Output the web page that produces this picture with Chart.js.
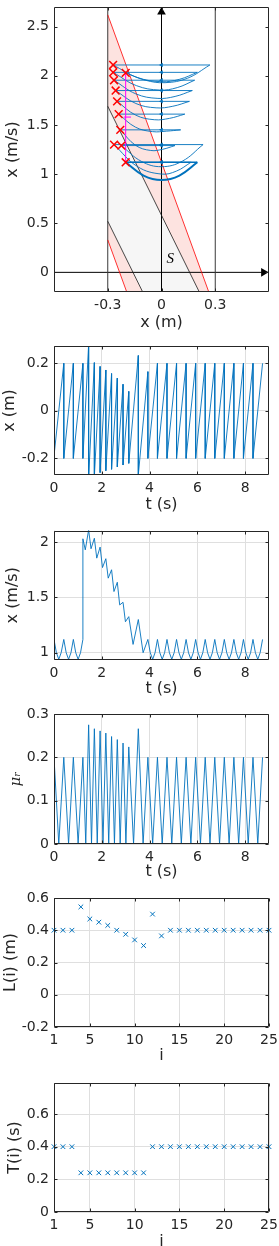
<!DOCTYPE html>
<html>
<head>
<meta charset="utf-8">
<title>stick-slip cycles</title>
<script src="https://cdn.jsdelivr.net/npm/chart.js@4.4.1/dist/chart.umd.min.js"></script>
<style>
    html, body { margin: 0; padding: 0; background: #fff; }
    body { position: relative; width: 279px; height: 1246px; overflow: hidden; }
    canvas { position: absolute; left: 0; }
</style>
</head>
<body>
<canvas id="phaseChart"></canvas>
<canvas id="posChart"></canvas>
<canvas id="velChart"></canvas>
<canvas id="muChart"></canvas>
<canvas id="lenChart"></canvas>
<canvas id="perChart"></canvas>
<script>
// ================= DATA : PHASE PLANE =================
const phaseXTicks = [-0.3, 0, 0.3];
const phaseXLabels = ["-0.3", "0", "0.3"];
const phaseYTicks = [0, 0.5, 1, 1.5, 2, 2.5];
const phaseYLabels = ["0", "0.5", "1", "1.5", "2", "2.5"];

// band boundaries, [x, xdot] end points
const redUpper = [[-0.3, 2.62], [0.264, -0.2]];
const blackUpper = [[-0.3, 1.69], [0.211, -0.2]];
const blackLower = [[-0.3, 0.52], [-0.105, -0.2]];
const redLower = [[-0.3, 0.33], [-0.194, -0.2]];
const stopX = [-0.3, 0.3];

const yAxisLine = [[0, -0.2], [0, 2.65]];
const xAxisLine = [[-0.6, 0], [0.57, 0]];
const axisArrows = [[0, 2.65], [0.57, 0]];
const axisArrowTurn = [0, 90];

// stick phases
const steadyArc = [[-0.2, 1.12], [-0.1, 0.985], [0, 0.94], [0.1, 0.985], [0.2, 1.12]];
const transientArcs = [
    [[-0.2, 2.03], [-0.09, 1.955], [0.02, 1.93], [0.145, 1.975], [0.27, 2.11]],
    [[-0.27, 2.11], [-0.135, 1.983], [0, 1.94], [0.1, 1.964], [0.2, 2.035]],
    [[-0.27, 2.035], [-0.14, 1.9], [-0.01, 1.855], [0.088, 1.88], [0.185, 1.955]],
    [[-0.265, 1.955], [-0.143, 1.816], [-0.02, 1.77], [0.076, 1.79], [0.172, 1.85]],
    [[-0.256, 1.85], [-0.143, 1.718], [-0.03, 1.674], [0.063, 1.69], [0.156, 1.74]],
    [[-0.248, 1.74], [-0.144, 1.6], [-0.04, 1.553], [0.045, 1.567], [0.13, 1.61]],
    [[-0.239, 1.61], [-0.145, 1.477], [-0.05, 1.432], [0.029, 1.437], [0.107, 1.45]],
    [[-0.23, 1.45], [-0.145, 1.293], [-0.06, 1.24], [0.008, 1.253], [0.075, 1.29]],
    [[-0.224, 1.29], [-0.112, 1.129], [0, 1.075], [0.116, 1.131], [0.232, 1.3]],
    [[-0.265, 1.3], [-0.133, 1.075], [0, 1.0], [0.083, 1.03], [0.165, 1.12]]
];

// slip resets: [from x, to x, xdot]
const resetLines = [
    [0.2, -0.2, 1.12], [0.27, -0.27, 2.11], [0.2, -0.27, 2.035], [0.185, -0.265, 1.955],
    [0.172, -0.256, 1.85], [0.156, -0.248, 1.74], [0.13, -0.239, 1.61], [0.107, -0.23, 1.45],
    [0.075, -0.224, 1.29], [0.232, -0.265, 1.3], [0.165, -0.2, 1.12]
];
const resetArrowX = 0;

const landings = [
    [-0.27, 2.11], [-0.27, 2.035], [-0.2, 2.03], [-0.265, 1.955], [-0.256, 1.85], [-0.248, 1.74],
    [-0.239, 1.61], [-0.23, 1.45], [-0.265, 1.3], [-0.224, 1.29], [-0.2, 1.12]
];

const kickLine = [[-0.2, 1.12], [-0.2, 2.03]];
const kickTick = [[-0.21, 1.58], [-0.17, 1.58]];
const setLabelPos = [0.049, 0.136];

// ================= DATA : TIME SERIES =================
const tTicks = [0, 2, 4, 6, 8];
const tLabels = ["0", "2", "4", "6", "8"];

const posT = [0, 0.41, 0.41, 0.81, 0.81, 1.21, 1.21, 1.45, 1.45, 1.69, 1.69, 1.93, 1.93,
    2.17, 2.17, 2.41, 2.41, 2.65, 2.65, 2.89, 2.89, 3.13, 3.13, 3.53, 3.53, 3.93, 3.93,
    4.33, 4.33, 4.73, 4.73, 5.13, 5.13, 5.53, 5.53, 5.93, 5.93, 6.33, 6.33, 6.73, 6.73,
    7.13, 7.13, 7.53, 7.53, 7.93, 7.93, 8.33, 8.33, 8.73];
const posX = [-0.19, 0.2, -0.2, 0.2, -0.2, 0.2, -0.2, 0.28, -0.28, 0.203, -0.275, 0.187, -0.26,
    0.172, -0.252, 0.157, -0.246, 0.138, -0.236, 0.112, -0.228, 0.082, -0.221, 0.233, -0.27, 0.165, -0.2,
    0.2, -0.2, 0.2, -0.2, 0.2, -0.2, 0.2, -0.2, 0.2, -0.2, 0.2, -0.2, 0.2, -0.2,
    0.2, -0.2, 0.2, -0.2, 0.2, -0.2, 0.2, -0.2, 0.2];
const posTicks = [-0.2, 0, 0.2];
const posLabels = ["-0.2", "0", "0.2"];

const velT = [0, 0.1, 0.2, 0.3, 0.41, 0.51, 0.61, 0.71, 0.81, 0.91, 1.01, 1.11, 1.21, 1.21,
    1.31, 1.45, 1.55, 1.69, 1.79, 1.93, 2.03, 2.17, 2.27, 2.41, 2.51, 2.65, 2.75, 2.89,
    2.99, 3.13, 3.31, 3.53, 3.73, 3.93,
    4.03, 4.13, 4.23, 4.33, 4.43, 4.53, 4.63, 4.73, 4.83, 4.93, 5.03, 5.13,
    5.23, 5.33, 5.43, 5.53, 5.63, 5.73, 5.83, 5.93, 6.03, 6.13, 6.23, 6.33,
    6.43, 6.53, 6.63, 6.73, 6.83, 6.93, 7.03, 7.13, 7.23, 7.33, 7.43, 7.53,
    7.63, 7.73, 7.83, 7.93, 8.03, 8.13, 8.23, 8.33, 8.43, 8.53, 8.63, 8.73];
const velV = [1.12, 1.0, 0.94, 1.0, 1.12, 1.0, 0.94, 1.0, 1.12, 1.0, 0.94, 1.0, 1.12, 2.03,
    1.93, 2.11, 1.94, 2.035, 1.855, 1.955, 1.77, 1.85, 1.674, 1.75, 1.553, 1.637, 1.432, 1.456,
    1.28, 1.326, 1.075, 1.3, 1.0, 1.12,
    1.0, 0.94, 1.0, 1.12, 1.0, 0.94, 1.0, 1.12, 1.0, 0.94, 1.0, 1.12,
    1.0, 0.94, 1.0, 1.12, 1.0, 0.94, 1.0, 1.12, 1.0, 0.94, 1.0, 1.12,
    1.0, 0.94, 1.0, 1.12, 1.0, 0.94, 1.0, 1.12, 1.0, 0.94, 1.0, 1.12,
    1.0, 0.94, 1.0, 1.12, 1.0, 0.94, 1.0, 1.12, 1.0, 0.94, 1.0, 1.12];
const velTicks = [1, 1.5, 2];
const velLabels = ["1", "1.5", "2"];

const muT = [0, 0.2, 0.41, 0.61, 0.81, 1.01, 1.21, 1.33, 1.45, 1.57, 1.69, 1.81, 1.93,
    2.05, 2.17, 2.29, 2.41, 2.53, 2.65, 2.77, 2.89, 3.01, 3.13, 3.33, 3.53, 3.73, 3.93,
    4.13, 4.33, 4.53, 4.73, 4.93, 5.13, 5.33, 5.53, 5.73, 5.93, 6.13, 6.33, 6.53, 6.73,
    6.93, 7.13, 7.33, 7.53, 7.73, 7.93, 8.13, 8.33, 8.53, 8.73];
const muV = [0.2, 0, 0.2, 0, 0.2, 0, 0.2, 0, 0.275, 0, 0.266, 0, 0.261,
    0, 0.256, 0, 0.248, 0, 0.241, 0, 0.233, 0, 0.224, 0, 0.266, 0, 0.2,
    0, 0.2, 0, 0.2, 0, 0.2, 0, 0.2, 0, 0.2, 0, 0.2, 0, 0.2,
    0, 0.2, 0, 0.2, 0, 0.2, 0, 0.2, 0, 0.2];
const muTicks = [0, 0.1, 0.2, 0.3];
const muLabels = ["0", "0.1", "0.2", "0.3"];

// ================= DATA : PER CYCLE =================
const cycleI = [1, 2, 3, 4, 5, 6, 7, 8, 9, 10, 11, 12, 13, 14, 15, 16, 17, 18, 19, 20, 21, 22, 23, 24, 25];
const cycleL = [0.4, 0.4, 0.4, 0.545, 0.47, 0.45, 0.43, 0.4, 0.375, 0.34, 0.305, 0.5, 0.365,
    0.4, 0.4, 0.4, 0.4, 0.4, 0.4, 0.4, 0.4, 0.4, 0.4, 0.4, 0.4];
const cycleT = [0.4, 0.4, 0.4, 0.24, 0.24, 0.24, 0.24, 0.24, 0.24, 0.24, 0.24,
    0.4, 0.4, 0.4, 0.4, 0.4, 0.4, 0.4, 0.4, 0.4, 0.4, 0.4, 0.4, 0.4, 0.4];
const iTicks = [1, 5, 10, 15, 20, 25];
const iLabels = ["1", "5", "10", "15", "20", "25"];
const lenTicks = [-0.2, 0, 0.2, 0.4, 0.6];
const lenLabels = ["-0.2", "0", "0.2", "0.4", "0.6"];
const perTicks = [0, 0.2, 0.4, 0.6];
const perLabels = ["0", "0.2", "0.4", "0.6"];


// ================= STYLE =================
const FONT = '"DejaVu Sans", sans-serif';
const INK = "#262626";
const BLUE = "#0072BD";


// ================= HELPERS =================
function xyData(xs, ys) {
    return xs.map((x, i) => ({ x: x, y: ys[i] }));
}

function ptData(pts) {
    return pts.map(p => ({ x: p[0], y: p[1] }));
}

function lineSet(data, color, width, extra) {
    return Object.assign({
        data: data,
        showLine: true,
        borderColor: color,
        backgroundColor: color,
        borderWidth: width,
        pointRadius: 0,
        pointHoverRadius: 0,
        tension: 0
    }, extra || {});
}

function markSet(data, style, radius, color, width, extra) {
    return Object.assign({
        data: data,
        showLine: false,
        pointStyle: style,
        pointRadius: radius,
        pointHoverRadius: radius,
        borderColor: color,
        backgroundColor: color,
        pointBorderWidth: width,
        borderWidth: width,
        clip: false
    }, extra || {});
}

function axisOpts(o) {
    return {
        type: "linear",
        min: o.min,
        max: o.max,
        afterBuildTicks: s => { s.ticks = o.ticks.map(v => ({ value: v })); },
        afterFit: s => {
            if (o.horizontal) s.height = o.size; else s.width = o.size;
            s.paddingLeft = 0; s.paddingRight = 0; s.paddingTop = 0; s.paddingBottom = 0;
        },
        ticks: {
            autoSkip: false,
            maxRotation: 0,
            minRotation: 0,
            padding: o.horizontal ? 5.4 : 5,
            color: INK,
            font: { family: FONT, size: 14, lineHeight: 1.2 },
            callback: (v, i) => o.labels[i]
        },
        grid: { display: o.grid, color: "#dfdfdf", lineWidth: 1, drawTicks: false },
        border: { display: false },
        title: {
            display: true,
            text: o.title,
            color: INK,
            font: o.titleFont || { family: FONT, size: 16, lineHeight: 1.2 },
            padding: o.horizontal ? { top: 0, bottom: o.titlePad } : { top: o.titlePad, bottom: 0 }
        }
    };
}


// ================= PLUGINS =================
const framePlugin = {
    id: "frame",
    afterDatasetsDraw(chart) {
        const { ctx, chartArea: a, scales: { x, y } } = chart;
        const l = Math.round(a.left) + 0.5;
        const r = Math.round(a.right) - 0.5;
        const t = Math.round(a.top) + 0.5;
        const b = Math.round(a.bottom) - 0.5;
        ctx.save();
        ctx.strokeStyle = INK;
        ctx.lineWidth = 1;
        ctx.beginPath();
        ctx.rect(l, t, r - l, b - t);
        x.ticks.forEach(tk => {
            const px = Math.round(x.getPixelForValue(tk.value)) + 0.5;
            ctx.moveTo(px, b); ctx.lineTo(px, b - 3);
            ctx.moveTo(px, t); ctx.lineTo(px, t + 3);
        });
        y.ticks.forEach(tk => {
            const py = Math.round(y.getPixelForValue(tk.value)) + 0.5;
            ctx.moveTo(l, py); ctx.lineTo(l + 3, py);
            ctx.moveTo(r, py); ctx.lineTo(r - 3, py);
        });
        ctx.stroke();
        ctx.restore();
    }
};

const setLabelPlugin = {
    id: "setLabel",
    afterDatasetsDraw(chart) {
        const { ctx, scales: { x, y } } = chart;
        ctx.save();
        ctx.font = 'italic 15px "Liberation Serif", serif';
        ctx.fillStyle = "#000";
        ctx.textAlign = "center";
        ctx.textBaseline = "middle";
        ctx.fillText("S", x.getPixelForValue(setLabelPos[0]), y.getPixelForValue(setLabelPos[1]));
        ctx.restore();
    }
};


// ================= PANEL =================
function makePanel(id, p) {
    const canvas = document.getElementById(id);
    canvas.width = 279;
    canvas.height = p.height;
    canvas.style.top = p.top + "px";
    canvas.style.width = "279px";
    canvas.style.height = p.height + "px";

    return new Chart(canvas, {
        type: "scatter",
        data: { datasets: p.datasets },
        options: {
            responsive: false,
            animation: false,
            devicePixelRatio: 1,
            events: [],
            layout: { padding: { top: p.boxTop - p.top, right: 10, bottom: 0, left: 0 } },
            plugins: { legend: { display: false }, tooltip: { enabled: false } },
            scales: {
                x: axisOpts(Object.assign({ horizontal: true, size: p.top + p.height - p.boxBottom }, p.x)),
                y: axisOpts(Object.assign({ horizontal: false, size: 54 }, p.y))
            }
        },
        plugins: [framePlugin].concat(p.plugins || [])
    });
}


// ================= PHASE PLANE =================
function phaseDatasets() {
    const sets = [];
    const shape = (pts, color) => lineSet(ptData(pts), "rgba(0,0,0,0)", 0,
        { fill: "shape", backgroundColor: color, order: 40 });

    sets.push(shape([redUpper[0], redUpper[1], blackUpper[1], blackUpper[0]], "#fde3e0"));
    sets.push(shape([blackUpper[0], blackUpper[1], blackLower[1], blackLower[0]], "#f6f6f6"));
    sets.push(shape([blackLower[0], blackLower[1], redLower[1], redLower[0]], "#fde3e0"));

    [redUpper, redLower].forEach(l => sets.push(lineSet(ptData(l), "#ff0000", 0.8, { order: 30 })));
    [blackUpper, blackLower].forEach(l => sets.push(lineSet(ptData(l), "#1a1a1a", 0.8, { order: 30 })));
    stopX.forEach(sx => sets.push(lineSet([{ x: sx, y: -0.2 }, { x: sx, y: 2.7 }], "#3a3a3a", 1, { order: 30 })));
    sets.push(lineSet(ptData(yAxisLine), "#000", 1, { order: 30 }));
    sets.push(lineSet(ptData(xAxisLine), "#000", 1, { order: 30 }));

    transientArcs.forEach(arc => sets.push(lineSet(ptData(arc), BLUE, 0.9, { tension: 0.4, order: 20 })));
    sets.push(lineSet(ptData(steadyArc), BLUE, 2, { tension: 0.4, order: 19 }));

    resetLines.forEach((r, i) => sets.push(lineSet([{ x: r[0], y: r[2] }, { x: r[1], y: r[2] }], BLUE,
        i === 0 ? 1.6 : 0.9, { order: 20 })));
    sets.push(markSet(resetLines.map(r => ({ x: resetArrowX, y: r[2] })), "triangle", 2.5, BLUE, 0,
        { rotation: 270, order: 18 }));

    sets.push(lineSet(ptData(kickLine), "#ff00ff", 1, { order: 10 }));
    sets.push(lineSet(ptData(kickTick), "#ff00ff", 1, { order: 10 }));

    sets.push(markSet(ptData(landings), "crossRot", 5.5, "#ff0000", 1.5, { order: 5 }));
    sets.push(markSet(ptData(axisArrows), "triangle", 5, "#000", 0, { rotation: axisArrowTurn, order: 1 }));
    return sets;
}


// ================= INIT =================
document.addEventListener("DOMContentLoaded", () => {

    makePanel("phaseChart", {
        top: 0, height: 335, boxTop: 1, boxBottom: 292,
        x: { min: -0.6, max: 0.6, ticks: phaseXTicks, labels: phaseXLabels, grid: false, title: "x (m)", titlePad: 2.9 },
        y: { min: -0.2, max: 2.7, ticks: phaseYTicks, labels: phaseYLabels, grid: false, title: "x (m/s)", titlePad: 3.7 },
        datasets: phaseDatasets(),
        plugins: [setLabelPlugin]
    });

    makePanel("posChart", {
        top: 335, height: 180, boxTop: 346, boxBottom: 475,
        x: { min: 0, max: 9, ticks: tTicks, labels: tLabels, grid: true, title: "t (s)", titlePad: 0.4 },
        y: { min: -0.27, max: 0.273, ticks: posTicks, labels: posLabels, grid: true, title: "x (m)", titlePad: 0 },
        datasets: [lineSet(xyData(posT, posX), BLUE, 0.9)]
    });

    makePanel("velChart", {
        top: 515, height: 190, boxTop: 530.5, boxBottom: 660,
        x: { min: 0, max: 9, ticks: tTicks, labels: tLabels, grid: true, title: "t (s)", titlePad: 6.4 },
        y: { min: 0.934, max: 2.105, ticks: velTicks, labels: velLabels, grid: true, title: "x (m/s)", titlePad: 3.4 },
        datasets: [lineSet(xyData(velT, velV), BLUE, 0.9)]
    });

    makePanel("muChart", {
        top: 705, height: 178, boxTop: 714, boxBottom: 844,
        x: { min: 0, max: 9, ticks: tTicks, labels: tLabels, grid: true, title: "t (s)", titlePad: 1.4 },
        y: { min: 0, max: 0.3, ticks: muTicks, labels: muLabels, grid: true, title: "\u03bc\u1d63", titlePad: 7.3,
             titleFont: { family: '"DejaVu Serif", serif', style: "italic", size: 15, lineHeight: 1.2 } },
        datasets: [lineSet(xyData(muT, muV), BLUE, 0.9)]
    });

    makePanel("lenChart", {
        top: 883, height: 185, boxTop: 898, boxBottom: 1027,
        x: { min: 1, max: 25, ticks: iTicks, labels: iLabels, grid: true, title: "i", titlePad: 2.7 },
        y: { min: -0.2, max: 0.6, ticks: lenTicks, labels: lenLabels, grid: true, title: "L(i) (m)", titlePad: 0.9 },
        datasets: [markSet(xyData(cycleI, cycleL), "crossRot", 3.3, BLUE, 1)]
    });

    makePanel("perChart", {
        top: 1068, height: 190, boxTop: 1083, boxBottom: 1212,
        x: { min: 1, max: 25, ticks: iTicks, labels: iLabels, grid: true, title: "i", titlePad: 6.7 },
        y: { min: 0, max: 0.79, ticks: perTicks, labels: perLabels, grid: true, title: "T(i) (s)", titlePad: 4.9 },
        datasets: [markSet(xyData(cycleI, cycleT), "crossRot", 3.3, BLUE, 1)]
    });
});
</script>
</body>
</html>
